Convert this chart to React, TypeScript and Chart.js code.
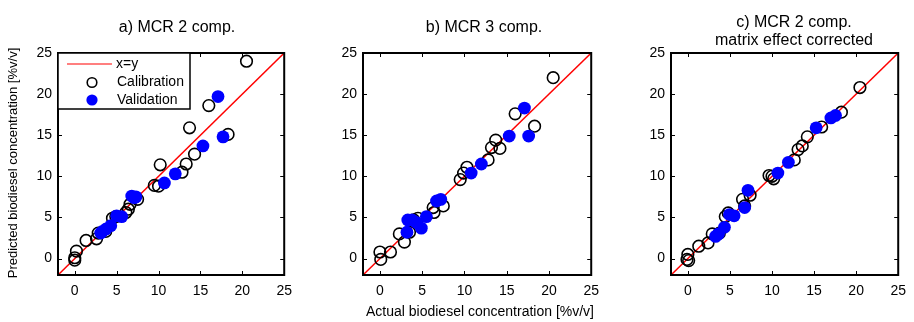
import React, { useEffect, useRef } from "react";
import { Chart, registerables } from "chart.js";
Chart.register(...registerables);

// ---------- data ----------
const tickValues = [0, 5, 10, 15, 20, 25];
const axisMin = -2;
const axisMax = 25;
const identityLine = [-2, 25];

const legendLabels = ["x=y", "Calibration", "Validation"];
const titleA = ["a) MCR 2 comp."];
const titleB = ["b) MCR 3 comp."];
const titleC = ["c) MCR 2 comp.", "matrix effect corrected"];
const xAxisLabel = "Actual biodiesel concentration [%v/v]";
const yAxisLabel = "Predicted biodiesel concentration [%v/v]";

const calAX = [20.5, 16.0, 13.7, 18.3, 14.3, 13.3, 12.8, 10.2, 9.5, 10.0, 7.5, 6.6, 6.4, 6.1, 4.9, 4.5, 3.7, 2.8, 2.6, 1.35, 0.2, 0, 0];
const calAY = [24.0, 18.6, 15.9, 15.1, 12.7, 11.5, 10.5, 11.4, 8.9, 8.8, 7.2, 6.6, 6.0, 5.6, 5.1, 4.9, 3.3, 3.1, 2.4, 2.2, 0.9, 0.1, -0.2];
const valAX = [17.1, 17.7, 15.3, 12.0, 10.7, 7.1, 6.8, 7.3, 5.6, 5.0, 4.3, 3.75, 3.3, 3.1];
const valAY = [19.7, 14.8, 13.7, 10.3, 9.2, 7.4, 7.6, 7.5, 5.1, 5.2, 4.0, 3.6, 3.3, 3.1];

const calBX = [20.5, 16.0, 18.3, 13.7, 13.2, 14.2, 12.8, 10.3, 9.9, 9.5, 7.5, 6.3, 6.4, 4.5, 4.0, 2.3, 2.9, 1.25, 0, 0.1, 3.5];
const calBY = [22.0, 17.6, 16.1, 14.4, 13.5, 13.4, 12.0, 11.1, 10.4, 9.6, 6.4, 6.2, 5.6, 4.9, 4.7, 3.0, 2.0, 0.8, 0.8, -0.1, 3.2];
const valBX = [17.1, 17.6, 15.3, 12.0, 10.8, 7.2, 6.7, 5.5, 4.9, 4.3, 3.8, 3.3, 3.2];
const valBY = [18.3, 14.9, 14.9, 11.5, 10.4, 7.2, 7.0, 5.1, 3.7, 4.4, 4.7, 4.7, 3.2];

const calCX = [20.45, 18.25, 15.9, 14.2, 13.6, 13.1, 12.65, 9.65, 10.2, 10.0, 7.4, 6.5, 6.75, 4.45, 4.8, 3.75, 2.9, 2.4, 1.3, 0, 0.1, -0.1];
const calCY = [20.8, 17.8, 16.0, 14.8, 13.7, 13.25, 12.0, 10.1, 9.7, 10.0, 7.7, 7.2, 6.4, 5.1, 5.55, 3.1, 3.0, 1.9, 1.5, 0.5, -0.25, -0.1];
const valCX = [17.0, 17.55, 15.25, 11.95, 10.7, 7.15, 6.75, 5.5, 4.95, 4.35, 3.65, 3.3];
const valCY = [17.1, 17.4, 15.9, 11.7, 10.4, 8.3, 6.2, 5.2, 5.35, 3.8, 3.0, 2.7];

// ---------- styling ----------
const FONT = "'Liberation Sans', Arial, Helvetica, sans-serif";
const RED = "#ff0000";
const BLUE = "#0000ff";
const CAL_R = 5.8;
const VAL_R = 6.4;

const zip = (xs: number[], ys: number[]) => xs.map((x, i) => ({ x, y: ys[i] }));

type PanelProps = {
  left: number;
  width: number;
  yAxisWidth: number;
  rightPad: number;
  title: string[];
  titleCenter: number;
  titleBaselines: number[];
  calX: number[];
  calY: number[];
  valX: number[];
  valY: number[];
  showLegend?: boolean;
  showYLabel?: boolean;
  showXLabel?: boolean;
};

function Panel(p: PanelProps) {
  const ref = useRef<HTMLCanvasElement | null>(null);
  useEffect(() => {
    if (!ref.current) return;
    const decor = {
      id: "decor",
      afterDatasetsDraw(chart: any) {
        const ctx = chart.ctx;
        const a = chart.chartArea;
        const xs = chart.scales.x;
        const ys = chart.scales.y;
        ctx.save();
        // frame
        ctx.strokeStyle = "#000";
        ctx.lineWidth = 2;
        ctx.strokeRect(a.left, a.top, a.right - a.left, a.bottom - a.top);
        // inward ticks
        const tl = 4;
        ctx.lineWidth = 1;
        ctx.beginPath();
        xs.ticks.forEach((t: any) => {
          const px = Math.round(xs.getPixelForValue(t.value)) + 0.5;
          ctx.moveTo(px, a.bottom);
          ctx.lineTo(px, a.bottom - tl);
          ctx.moveTo(px, a.top);
          ctx.lineTo(px, a.top + tl);
        });
        ys.ticks.forEach((t: any) => {
          const py = Math.round(ys.getPixelForValue(t.value)) + 0.5;
          ctx.moveTo(a.left, py);
          ctx.lineTo(a.left + tl, py);
          ctx.moveTo(a.right, py);
          ctx.lineTo(a.right - tl, py);
        });
        ctx.stroke();

        // legend
        if (p.showLegend) {
          const L = a.left;
          const T = a.top;
          ctx.fillStyle = "#fff";
          ctx.fillRect(L, T, 132, 56);
          ctx.strokeStyle = "#000";
          ctx.lineWidth = 1.5;
          ctx.strokeRect(L, T, 132, 56);
          const ds = chart.data.datasets;
          // line entry
          ctx.strokeStyle = ds[0].borderColor;
          ctx.lineWidth = 1.2;
          ctx.beginPath();
          ctx.moveTo(L + 9, T + 11);
          ctx.lineTo(L + 54, T + 11);
          ctx.stroke();
          // calibration
          ctx.strokeStyle = "#000";
          ctx.lineWidth = 1.6;
          ctx.beginPath();
          ctx.arc(L + 34, T + 29.5, CAL_R - 1, 0, Math.PI * 2);
          ctx.stroke();
          // validation
          ctx.fillStyle = BLUE;
          ctx.beginPath();
          ctx.arc(L + 34, T + 47, VAL_R - 0.8, 0, Math.PI * 2);
          ctx.fill();
          ctx.fillStyle = "#000";
          ctx.font = `14px ${FONT}`;
          ctx.textBaseline = "middle";
          ctx.textAlign = "left";
          ctx.fillText(ds[0].label, L + 58, T + 11);
          ctx.fillText(ds[1].label, L + 59, T + 29.5);
          ctx.fillText(ds[2].label, L + 59, T + 47);
        }

        // titles
        ctx.fillStyle = "#000";
        ctx.textAlign = "center";
        ctx.textBaseline = "alphabetic";
        ctx.font = `16px ${FONT}`;
        p.title.forEach((t, i) => {
          ctx.fillText(t, p.titleCenter - p.left, p.titleBaselines[i]);
        });

        if (p.showXLabel) {
          ctx.font = `14px ${FONT}`;
          ctx.fillText(xAxisLabel, 480 - p.left, 316);
        }
        if (p.showYLabel) {
          ctx.font = `13px ${FONT}`;
          ctx.translate(13 - p.left, 163);
          ctx.rotate(-Math.PI / 2);
          ctx.textBaseline = "middle";
          ctx.fillText(yAxisLabel, 0, 0);
        }
        ctx.restore();
      },
    };

    const chart = new Chart(ref.current, {
      type: "scatter",
      data: {
        datasets: [
          {
            type: "line",
            label: legendLabels[0],
            data: zip(identityLine, identityLine),
            borderColor: RED,
            borderWidth: 1.5,
            pointRadius: 0,
            fill: false,
            order: 3,
          } as any,
          {
            label: legendLabels[1],
            data: zip(p.calX, p.calY),
            backgroundColor: "rgba(0,0,0,0)",
            borderColor: "#000",
            borderWidth: 1.6,
            pointRadius: CAL_R,
            order: 2,
          },
          {
            label: legendLabels[2],
            data: zip(p.valX, p.valY),
            backgroundColor: BLUE,
            borderColor: BLUE,
            borderWidth: 0,
            pointRadius: VAL_R,
            order: 1,
          },
        ],
      },
      options: {
        animation: false,
        responsive: false,
        maintainAspectRatio: false,
        layout: { padding: { left: 0, right: p.rightPad, top: 53, bottom: 0 } },
        plugins: { legend: { display: false }, tooltip: { enabled: false }, title: { display: false } },
        scales: {
          x: {
            type: "linear",
            min: axisMin,
            max: axisMax,
            grid: { display: false, drawTicks: false },
            border: { display: false },
            afterBuildTicks: (s: any) => {
              s.ticks = tickValues.map((v) => ({ value: v }));
            },
            afterFit: (s: any) => {
              s.height = 47;
            },
            ticks: { color: "#000", font: { family: FONT, size: 14 }, padding: 8, maxRotation: 0, autoSkip: false },
          },
          y: {
            type: "linear",
            min: axisMin,
            max: axisMax,
            grid: { display: false, drawTicks: false },
            border: { display: false },
            afterBuildTicks: (s: any) => {
              s.ticks = tickValues.map((v) => ({ value: v }));
            },
            afterFit: (s: any) => {
              s.width = p.yAxisWidth;
            },
            ticks: { color: "#000", font: { family: FONT, size: 14 }, padding: 6, autoSkip: false },
          },
        },
      },
      plugins: [decor],
    });
    return () => chart.destroy();
  }, []);
  return (
    <canvas
      ref={ref}
      width={p.width}
      height={322}
      style={{ position: "absolute", left: p.left, top: 0, width: p.width, height: 322 }}
    />
  );
}

export default function App() {
  return (
    <div style={{ position: "fixed", left: 0, top: 0, width: 914, height: 322, background: "#fff" }}>
      <Panel
        left={0}
        width={300}
        yAxisWidth={58}
        rightPad={10}
        title={titleA}
        titleCenter={177}
        titleBaselines={[32]}
        calX={calAX}
        calY={calAY}
        valX={valAX}
        valY={valAY}
        showLegend
        showYLabel
      />
      <Panel
        left={323}
        width={284}
        yAxisWidth={40}
        rightPad={10}
        title={titleB}
        titleCenter={484}
        titleBaselines={[32]}
        calX={calBX}
        calY={calBY}
        valX={valBX}
        valY={valBY}
        showXLabel
      />
      <Panel
        left={631}
        width={283}
        yAxisWidth={40}
        rightPad={9}
        title={titleC}
        titleCenter={794}
        titleBaselines={[27, 45]}
        calX={calCX}
        calY={calCY}
        valX={valCX}
        valY={valCY}
      />
    </div>
  );
}
